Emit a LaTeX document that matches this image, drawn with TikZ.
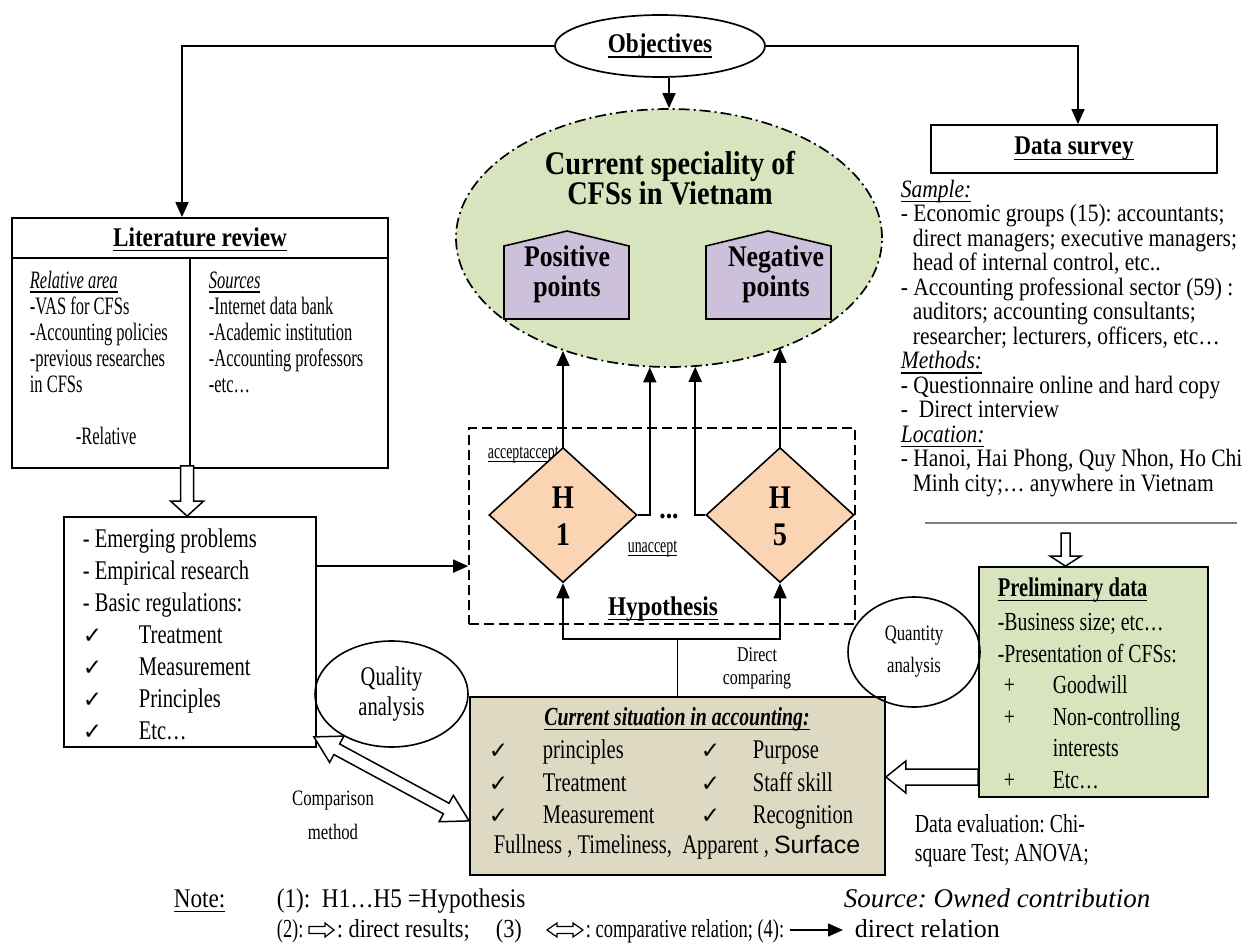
\documentclass[tikz,border=0pt]{standalone}
\usepackage{fontspec}
\setmainfont{Liberation Serif}
\newfontfamily\fbody[FakeStretch=0.76]{Liberation Serif}
\newfontfamily\flit[FakeStretch=0.66]{Liberation Serif}
\newfontfamily\fnote[FakeStretch=0.71]{Liberation Serif}
\newfontfamily\fhead[FakeStretch=0.86]{Liberation Serif}
\newfontfamily\fsym{DejaVu Sans}
\newfontfamily\fsans{Liberation Sans}
\usetikzlibrary{shapes.geometric,arrows.meta,calc}

\definecolor{cgreen}{HTML}{D7E4BD}
\definecolor{cpurple}{HTML}{CCC0DA}
\definecolor{corange}{HTML}{FBD4B4}
\definecolor{ctan}{HTML}{DDD9C3}

% font size with fixed line pitch
\newcommand\fsz[2]{\fontsize{#1}{#2}\selectfont\lineskiplimit=-100pt\relax}
% underline with a rule scaled to the font
\newsavebox\ulbox
\newcommand\ulx[1]{\sbox\ulbox{#1}\leavevmode\rlap{\usebox\ulbox}\rule[-0.2em]{\wd\ulbox}{0.065em}}
% check mark in a fixed-width cell
\newcommand\chk[1]{\makebox[#1][l]{\fsym\fontsize{23}{23}\selectfont ✓}}

% hollow block arrow: [style] tail, tip, shaft half width, head half width, head length
\newcommand\blockarrow[6][]{%
  \path ($(#3)!#6!(#2)$) coordinate (bah);
  \draw[hollowarrow,#1] ($(#2)!#4!90:(#3)$) -- ($(bah)!#4!90:(#3)$) -- ($(bah)!#5!90:(#3)$)
    -- (#3) -- ($(bah)!#5!-90:(#3)$) -- ($(bah)!#4!-90:(#3)$) -- ($(#2)!#4!-90:(#3)$) -- cycle;}
% hollow double block arrow: [style] end A, end B, shaft half width, head half width, head length
\newcommand\dblarrow[6][]{%
  \path ($(#2)!#6!(#3)$) coordinate (dba) ($(#3)!#6!(#2)$) coordinate (dbb);
  \draw[hollowarrow,#1] (#2) -- ($(dba)!#5!90:(#3)$) -- ($(dba)!#4!90:(#3)$) -- ($(dbb)!#4!90:(#3)$)
    -- ($(dbb)!#5!90:(#3)$) -- (#3) -- ($(dbb)!#5!-90:(#3)$) -- ($(dbb)!#4!-90:(#3)$)
    -- ($(dba)!#4!-90:(#3)$) -- ($(dba)!#5!-90:(#3)$) -- cycle;}

\begin{document}
\frenchspacing
\begin{tikzpicture}[x=1pt,y=-1pt,
  line width=1.7pt,
  linkarrow/.style={draw, line width=1.7pt, -{Triangle[length=15pt,width=13pt]}},
  plainline/.style={draw, line width=1.7pt},
  framebox/.style={draw, line width=1.8pt, rectangle, inner sep=0pt},
  hollowarrow/.style={draw, fill=white, line width=1.5pt, line join=miter},
  house/.style={draw, fill=cpurple, line width=1.6pt, line join=miter},
  textblock/.style={inner sep=0pt, align=left},
  textcenter/.style={inner sep=0pt, align=center},
  hdiamond/.style={diamond, draw, fill=corange, line width=1.6pt, minimum width=148pt,
    minimum height=135pt, inner sep=0pt},
  hlabel/.style={anchor=base, inner sep=0pt, font=\fhead\bfseries\fsz{33}{32}},
]
\fill[white] (0,0) rectangle (1250,944);
\useasboundingbox (0,0) rectangle (1250,944);

% ---------- objectives and the central result ----------
\node[ellipse, draw, line width=1.7pt, minimum width=210pt, minimum height=62pt, inner sep=0pt,
      font=\fhead\bfseries\fsz{27}{30}] (obj) at (660,46) {\ulx{Objectives}};

\node[ellipse, draw, fill=cgreen, line width=1.7pt, dash pattern=on 11pt off 4pt on 2pt off 4pt,
      minimum width=426pt, minimum height=258pt, inner sep=0pt] (cur) at (669,238) {};
\node[textcenter, font=\fhead\bfseries\fsz{33}{30}] (curtitle) at (670,178)
      {Current speciality of\\CFSs in Vietnam};

\draw[house] (504,319) -- (504,246) -- (567,231) -- (629,246) -- (629,319) -- cycle;
\draw[house] (706,319) -- (706,246) -- (768,231) -- (831,246) -- (831,319) -- cycle;
\node[textcenter, font=\fhead\bfseries\fsz{30}{30}] (pos) at (567,274) {Positive\\points};
\node[textcenter, font=\fhead\bfseries\fsz{30}{30}] (neg) at (776,274) {Negative\\points};

% ---------- hypotheses ----------
\node[draw, line width=1.6pt, dash pattern=on 10pt off 5pt, minimum width=386pt,
      minimum height=196pt, inner sep=0pt] (hyp) at (662,526) {};
\node[anchor=base west, inner sep=0pt, font=\flit\fsz{21}{24}] (acc) at (487,458) {\ulx{acceptaccept}};
\node[hdiamond] (h1) at (563,515) {};
\node[hdiamond] (h5) at (780,515) {};
\node[hlabel] (h1a) at ($(h1.center)+(0,-7)$) {H};
\node[hlabel] (h1b) at ($(h1.center)+(0,30)$) {1};
\node[hlabel] (h5a) at ($(h5.center)+(0,-7)$) {H};
\node[hlabel] (h5b) at ($(h5.center)+(0,30)$) {5};
\node[anchor=base, inner sep=0pt, font=\fhead\bfseries\fsz{30}{30}] (dots) at (669,518) {...};
\node[anchor=base west, inner sep=0pt, font=\flit\fsz{21}{24}] (unacc) at (627,552) {\ulx{unaccept}};
\node[anchor=base, inner sep=0pt, font=\fhead\bfseries\fsz{27}{30}] (hyptitle) at (663,615) {\ulx{Hypothesis}};

% ---------- literature review ----------
\node[framebox, minimum width=376pt, minimum height=250pt] (lit) at (200,343) {};
\draw[plainline] ($(lit.north west)+(0,41)$) -- ($(lit.north east)+(0,41)$);
\draw[plainline] ($(lit.north west)+(179,41)$) -- ($(lit.south west)+(179,0)$);
\node[anchor=base, inner sep=0pt, font=\fhead\bfseries\fsz{27}{30}] (littitle) at (200,246) {\ulx{Literature review}};
\node[textblock, anchor=north west, font=\flit\fsz{25}{26}] (litleft) at (29,269) {%
  \strut\textit{\ulx{Relative area}}\\
  -VAS for CFSs\\
  -Accounting policies\\
  -previous researches\\
  in CFSs\\[26pt]
  \hspace*{46pt}-Relative};
\node[textblock, anchor=north west, font=\flit\fsz{25}{26}] (litright) at (208,269) {%
  \strut\textit{\ulx{Sources}}\\
  -Internet data bank\\
  -Academic institution\\
  -Accounting professors\\
  -etc…};

% ---------- emerging problems ----------
\node[framebox, minimum width=252pt, minimum height=230pt] (emg) at (190,632) {};
\node[textblock, anchor=north west, font=\fbody\fsz{27}{32}] (emgtext) at (82,524) {%
  \strut- Emerging problems\\
  - Empirical research\\
  - Basic regulations:\\
  \chk{56pt}Treatment\\
  \chk{56pt}Measurement\\
  \chk{56pt}Principles\\
  \chk{56pt}Etc…};

% ---------- data survey ----------
\node[framebox, minimum width=286pt, minimum height=48pt, font=\fhead\bfseries\fsz{27}{30}] (ds) at (1074,149) {\ulx{Data survey}};
\node[textblock, anchor=north west, font=\fhead\fsz{25}{24.5}] (dstext) at (900,179) {%
  \strut\textit{\ulx{Sample:}}\\
  - Economic groups (15): accountants;\\
  \hspace*{12pt}direct managers; executive managers;\\
  \hspace*{12pt}head of internal control, etc..\\
  - Accounting professional sector (59) :\\
  \hspace*{12pt}auditors; accounting consultants;\\
  \hspace*{12pt}researcher; lecturers, officers, etc…\\
  \textit{\ulx{Methods:}}\\
  - Questionnaire online and hard copy\\
  -\ \ Direct interview\\
  \textit{\ulx{Location:}}\\
  - Hanoi, Hai Phong, Quy Nhon, Ho Chi\\
  \hspace*{12pt}Minh city;… anywhere in Vietnam};
\draw[gray, line width=1.2pt] (925,523) -- (1237,523);

% ---------- preliminary data ----------
\node[framebox, fill=cgreen, minimum width=229pt, minimum height=230pt] (pre) at (1093.5,682) {};
\node[anchor=base west, inner sep=0pt, font=\fbody\bfseries\fsz{27}{30}] (pretitle) at (997,596) {\ulx{Preliminary data}};
\node[textblock, anchor=north west, font=\fbody\fsz{26}{31.5}] (pretext) at (997,608) {%
  \strut-Business size; etc…\\
  -Presentation of CFSs:\\
  \hspace*{6pt}\makebox[49pt][l]{+}Goodwill\\
  \hspace*{6pt}\makebox[49pt][l]{+}Non-controlling\\
  \hspace*{55pt}interests\\
  \hspace*{6pt}\makebox[49pt][l]{+}Etc…};

% ---------- current situation ----------
\node[framebox, fill=ctan, minimum width=415pt, minimum height=178pt] (cs) at (677.5,786) {};
\node[anchor=base, inner sep=0pt, font=\fbody\bfseries\itshape\fsz{26}{30}] (cstitle) at (677,725) {\ulx{Current situation in accounting:}};
\node[textblock, anchor=north west, font=\fbody\fsz{27}{32.5}] (csitems) at (488,735) {%
  \strut\chk{54pt}\makebox[158pt][l]{principles}\chk{52pt}Purpose\\
  \chk{54pt}\makebox[158pt][l]{Treatment}\chk{52pt}Staff skill\\
  \chk{54pt}\makebox[158pt][l]{Measurement}\chk{52pt}Recognition};
\node[anchor=base, inner sep=0pt, font=\fbody\fsz{27}{30}] (csqual) at (677,853)
  {Fullness , Timeliness,\ \ Apparent , {\fsans\fontsize{25}{30}\selectfont Surface}};

% ---------- analysis ellipses and side labels ----------
\node[ellipse, draw, line width=1.6pt, minimum width=153pt, minimum height=106pt, inner sep=0pt,
      align=center, font=\fbody\fsz{27}{30}] (qual) at (391.5,694) {Quality\\analysis};
\node[ellipse, draw, line width=1.6pt, minimum width=132pt, minimum height=110pt, inner sep=0pt,
      align=center, font=\fbody\fsz{22}{32}] (quan) at (914,652) {Quantity\\analysis};
\node[textcenter, font=\fbody\fsz{22}{34}] (cmp) at (333,815) {Comparison\\method};
\node[textcenter, font=\fbody\fsz{21}{23}] (dcmp) at (757,668) {Direct\\comparing};
\node[textblock, anchor=north west, font=\fbody\fsz{26}{29}] (deval) at (914,811)
  {\strut Data evaluation: Chi-\\square Test; ANOVA;};

% ---------- connectors ----------
\coordinate (tl) at (182,46);
\coordinate (tr) at (1078,46);
\draw[linkarrow] (obj.west) -- (tl) -- (tl |- lit.north);
\draw[linkarrow] (obj.east) -- (tr) -- (tr |- ds.north);
\draw[linkarrow] (cur.north |- obj.south) -- (cur.north);

\draw[linkarrow] (h1.north) -- (h1.north |- cur.-133.4);
\draw[linkarrow] (h5.north) -- (h5.north |- cur.-44.8);
\draw[linkarrow] (h1.east) -- ++(12,0) coordinate (k1) -- (k1 |- cur.-98.9);
\draw[linkarrow] (h5.west) -- ++(-10,0) coordinate (k5) -- (k5 |- cur.-78.5);

\coordinate (bj) at (677.5,639);
\draw[plainline] (cs.north) -- (bj);
\draw[linkarrow] (bj) -| (h1.south);
\draw[linkarrow] (bj) -| (h5.south);

\draw[linkarrow] ($(emg.north east)+(0,50)$) coordinate (ea) -- (ea -| hyp.west);

% block arrows
\coordinate (la) at ($(lit.south west)+(176,-3)$);
\coordinate (lb) at (la |- emg.north);
\blockarrow{la}{lb}{6.5pt}{16.5pt}{15pt}
\coordinate (pa) at ($(pre.north)+(-28,-33)$);
\coordinate (pb) at ($(pre.north)+(-28,0)$);
\blockarrow{pa}{pb}{4.5pt}{15.5pt}{10pt}
\coordinate (qa) at ($(pre.west)+(0,95)$);
\coordinate (qb) at (qa -| cs.east);
\blockarrow{qa}{qb}{8pt}{16pt}{20pt}
\coordinate (ca) at ($(emg.south east)+(-3,-11)$);
\coordinate (cb) at ($(cs.south west)+(0,-55)$);
\dblarrow{ca}{cb}{6pt}{15pt}{26pt}

% ---------- note ----------
\node[anchor=base west, inner sep=0pt, font=\fhead\fsz{27}{30}] (note) at (173,907) {\ulx{Note:}};
\node[anchor=base west, inner sep=0pt, font=\fhead\fsz{27}{30}] (n1) at (276,907) {(1):\ \ H1…H5 =Hypothesis};
\node[anchor=base west, inner sep=0pt, font=\itshape\fsz{27}{30}] (src) at (843,907) {Source: Owned contribution};
\node[anchor=base west, inner sep=0pt, font=\fnote\fsz{26}{30}] (n2a) at (276,937) {(2):};
\node[anchor=base west, inner sep=0pt, font=\fhead\fsz{26}{30}] (n2b) at (336,937) {: direct results;};
\node[anchor=base west, inner sep=0pt, font=\fhead\fsz{26}{30}] (n2c) at (495,937) {(3)};
\node[anchor=base west, inner sep=0pt, font=\fnote\fsz{26}{30}] (n2d) at (585,937) {: comparative relation; (4):};
\node[anchor=base west, inner sep=0pt, font=\fsz{26}{30}] (n2e) at (854,937) {direct relation};
\coordinate (l1a) at (309,930);
\coordinate (l1b) at (334,930);
\blockarrow[line width=1.2pt]{l1a}{l1b}{3.5pt}{7pt}{9pt}
\coordinate (l2a) at (547,930);
\coordinate (l2b) at (583,930);
\dblarrow[line width=1.2pt]{l2a}{l2b}{3.5pt}{7pt}{10pt}
\coordinate (l3a) at (790,930);
\coordinate (l3b) at (843,930);
\draw[linkarrow, line width=1.4pt] (l3a) -- (l3b);
\end{tikzpicture}
\end{document}
